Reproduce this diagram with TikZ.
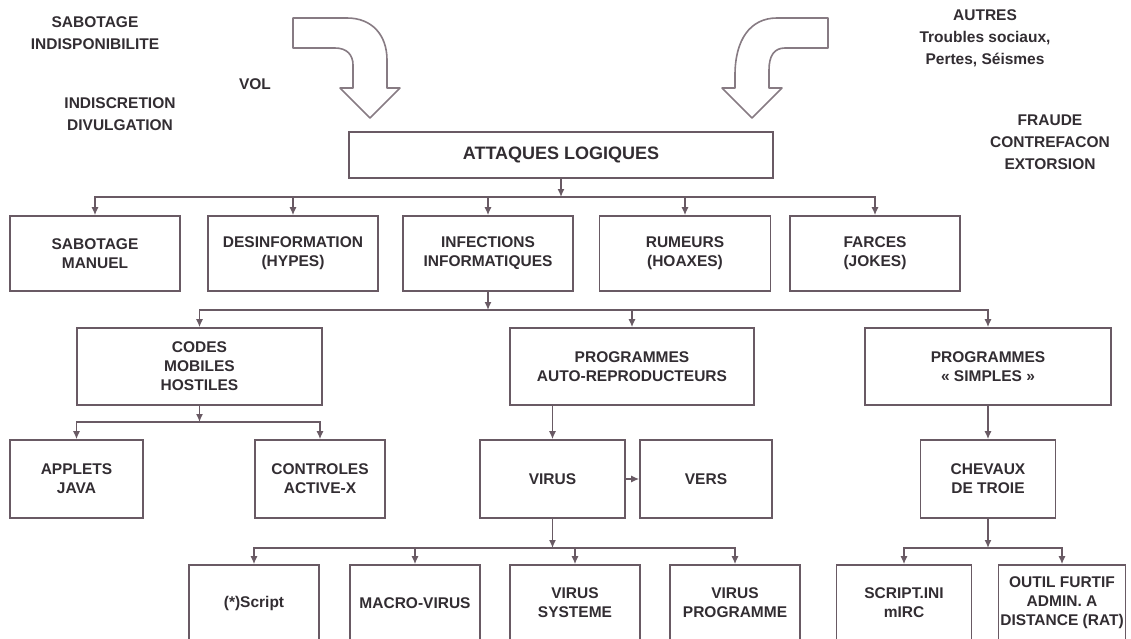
\documentclass[tikz,border=0pt]{standalone}
\usepackage{fontspec}
\setmainfont{Liberation Sans}
\usetikzlibrary{arrows.meta}
\definecolor{boxline}{RGB}{105,90,100}
\definecolor{boxtext}{RGB}{50,45,50}
\tikzset{
  box/.style={draw=boxline, line width=1.6pt, inner sep=0pt, align=center,
    text=boxtext, font=\bfseries\fontsize{15.5}{19}\selectfont},
  sidetext/.style={align=center, inner sep=0pt, text=boxtext,
    font=\bfseries\fontsize{15.5}{22}\selectfont},
  link/.style={-{Latex[length=8pt,width=7pt]}, line width=1.4pt, draw=boxline},
  bigarrow/.style={draw=boxline!80, line width=1.6pt, fill=white, line join=round}
}

\begin{document}
\begin{tikzpicture}[x=1pt, y=-1pt]
    \useasboundingbox (0,0) rectangle (1131,639);
    % side texts
    \node[sidetext] (sabind) at (95,33) {SABOTAGE\\INDISPONIBILITE};
    \node[sidetext] (vol) at (255,84) {VOL};
    \node[sidetext] (indisc) at (120,114) {INDISCRETION\\DIVULGATION};
    \node[sidetext] (autres) at (985,38) {AUTRES\\Troubles sociaux,\\Pertes, Séismes};
    \node[sidetext] (fraude) at (1050,142) {FRAUDE\\CONTREFACON\\EXTORSION};
    % curved arrows
    \draw[bigarrow] (293,18) -- (347,18) .. controls (372,18) and (387,35) .. (387,60)
      -- (387,88) -- (400,88) -- (370,118) -- (340,88) -- (353,88) -- (353,65)
      .. controls (353,55) and (347,48) .. (335,48) -- (293,48) -- cycle;
    \draw[bigarrow] (828,18) -- (777,18) .. controls (750,18) and (735,40) .. (735,75)
      -- (735,88) -- (722,88) -- (752,118) -- (782,88) -- (769,88) -- (769,70)
      .. controls (769,56) and (774,48) .. (785,48) -- (828,48) -- cycle;
    % level 0
    \node[box, minimum width=424pt, minimum height=46pt, font=\bfseries\fontsize{18}{20}\selectfont] (attaques) at (561,155) {ATTAQUES LOGIQUES};
    % level 1
    \node[box, minimum width=170pt, minimum height=75pt] (sabotage) at (95,253.5) {SABOTAGE\\MANUEL};
    \node[box, minimum width=170pt, minimum height=75pt] (desinfo) at (293,253.5) {DESINFORMATION\\(HYPES)};
    \node[box, minimum width=170pt, minimum height=75pt] (infections) at (488,253.5) {INFECTIONS\\INFORMATIQUES};
    \node[box, minimum width=171pt, minimum height=75pt] (rumeurs) at (685,253.5) {RUMEURS\\(HOAXES)};
    \node[box, minimum width=170pt, minimum height=75pt] (farces) at (875,253.5) {FARCES\\(JOKES)};
    % level 2
    \node[box, minimum width=245pt, minimum height=77pt] (codes) at (199.5,366.5) {CODES\\MOBILES\\HOSTILES};
    \node[box, minimum width=244pt, minimum height=77pt] (auto) at (632,366.5) {PROGRAMMES\\AUTO-REPRODUCTEURS};
    \node[box, minimum width=246pt, minimum height=77pt] (simples) at (988,366.5) {PROGRAMMES\\« SIMPLES »};
    % level 3
    \node[box, minimum width=133pt, minimum height=78pt] (applets) at (76.5,479) {APPLETS\\JAVA};
    \node[box, minimum width=130pt, minimum height=78pt] (controles) at (320,479) {CONTROLES\\ACTIVE-X};
    \node[box, minimum width=145pt, minimum height=78pt] (virus) at (552.5,479) {VIRUS};
    \node[box, minimum width=132pt, minimum height=78pt] (vers) at (706,479) {VERS};
    \node[box, minimum width=135pt, minimum height=78pt] (chevaux) at (988,479) {CHEVAUX\\DE TROIE};
    % level 4
    \node[box, minimum width=130pt, minimum height=76pt] (script) at (254,603) {(*)Script};
    \node[box, minimum width=130pt, minimum height=76pt] (macro) at (415,603) {MACRO-VIRUS};
    \node[box, minimum width=130pt, minimum height=76pt] (vsys) at (575,603) {VIRUS\\SYSTEME};
    \node[box, minimum width=130pt, minimum height=76pt] (vprog) at (735,603) {VIRUS\\PROGRAMME};
    \node[box, minimum width=135pt, minimum height=76pt] (scriptini) at (904,603) {SCRIPT.INI\\mIRC};
    \node[box, minimum width=127pt, minimum height=76pt] (outil) at (1062,603) {OUTIL FURTIF\\ADMIN. A\\DISTANCE (RAT)};
    % bus points
    \coordinate (bus1) at (561,197);
    \coordinate (bus2) at (488,310);
    \coordinate (bus3) at (199.5,422);
    \coordinate (bus4) at (552.5,548);
    \coordinate (bus5) at (988,548);
    % connectors
    \draw[link] (attaques) -- (bus1);
    \foreach \n in {sabotage,desinfo,infections,rumeurs,farces}
      \draw[link] (bus1) -| (\n);
    \draw[link] (infections) -- (bus2);
    \foreach \n in {codes,auto,simples}
      \draw[link] (bus2) -| (\n);
    \draw[link] (codes) -- (bus3);
    \foreach \n in {applets,controles}
      \draw[link] (bus3) -| (\n);
    \draw[link] (virus |- auto.south) -- (virus);
    \draw[link] (simples) -- (chevaux);
    \draw[link] (virus) -- (vers);
    \draw[link] (virus) -- (bus4);
    \foreach \n in {script,macro,vsys,vprog}
      \draw[link] (bus4) -| (\n);
    \draw[link] (chevaux) -- (bus5);
    \foreach \n in {scriptini,outil}
      \draw[link] (bus5) -| (\n);
  \end{tikzpicture}
\end{document}
